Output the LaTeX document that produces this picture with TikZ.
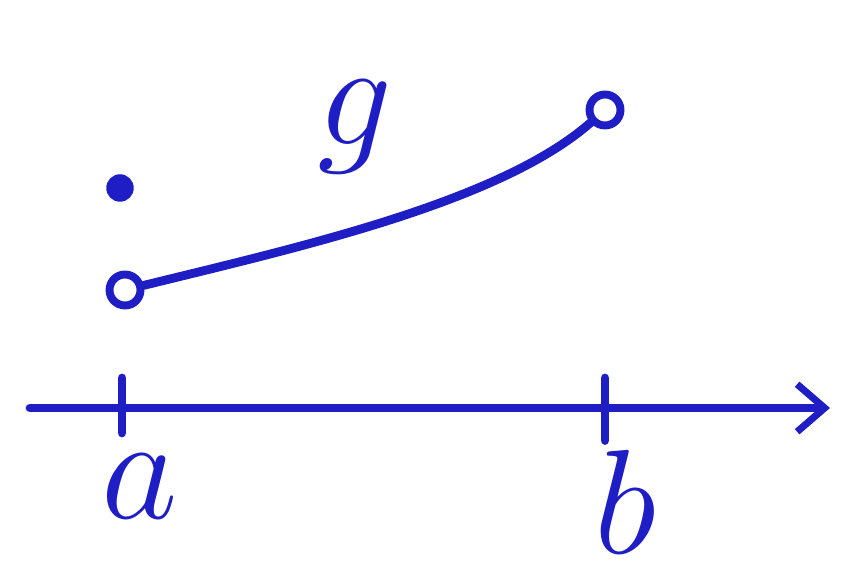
\documentclass[tikz,border=0pt]{standalone}
\usetikzlibrary{arrows.meta}
\definecolor{tinta}{HTML}{1E1EC4}

\begin{document}
\begin{tikzpicture}[
    trazo/.style={draw=tinta, line width=5pt, line cap=round},
    hueco/.style={circle, draw=tinta, line width=4.5pt, fill=white, minimum size=0.62cm, inner sep=0pt},
    punto/.style={circle, fill=tinta, minimum size=0.55cm, inner sep=0pt},
    letra/.style={text=tinta, font=\Huge, transform shape, scale=3.4}]
  \useasboundingbox (0,0) rectangle (16.82,11.64);
  % eje
  \coordinate (ini) at (0.6,3.48);
  \coordinate (fin) at (16.6,3.48);
  \draw[trazo, -{Straight Barb[length=0.55cm, width=0.95cm, line width=4pt]}] (ini) -- (fin);
  \coordinate (ta) at (2.44,3.48);
  \coordinate (tb) at (12.1,3.48);
  \draw[trazo] ([yshift=-0.5cm]ta) -- ([yshift=0.6cm]ta);
  \draw[trazo] ([yshift=-0.65cm]tb) -- ([yshift=0.6cm]tb);
  \node[letra] (la) at (2.8,1.9) {$a$};
  \node[letra] (lb) at (12.5,1.6) {$b$};
  % grafica de g
  \node[hueco] (izq) at (2.5,5.84) {};
  \node[hueco] (der) at (12.1,9.44) {};
  \draw[trazo] (izq) .. controls (6,6.7) and (10,7.6) .. (der);
  \node[punto] (pto) at (2.4,7.88) {};
  \node[letra] (lg) at (7.1,9.1) {$g$};
\end{tikzpicture}
\end{document}
